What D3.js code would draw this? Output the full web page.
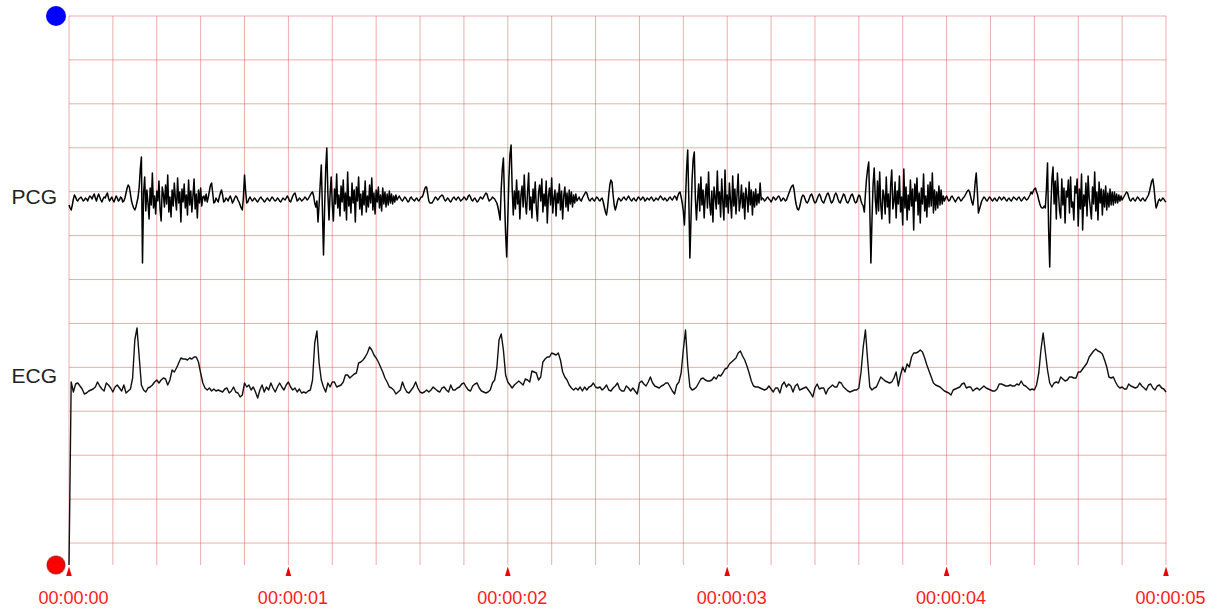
<!DOCTYPE html>
<html>
<head>
<meta charset="utf-8">
<script src="https://cdn.jsdelivr.net/npm/d3@7"></script>
<style>
  html, body { margin: 0; padding: 0; background: #fff; }
  svg { display: block; }
</style>
</head>
<body>
<svg id="chart" width="1213" height="609"></svg>
<script>
// Time axis: one tick per second, labelled hh:mm:ss
const timeTicks = [0, 1, 2, 3, 4, 5];
const timeLabels = ["00:00:00", "00:00:01", "00:00:02", "00:00:03", "00:00:04", "00:00:05"];
const channelNames = ["PCG", "ECG"];

// Sampling rates (samples per second)
const pcgRate = 200;
const ecgRate = 100;

// Phonocardiogram, signed amplitude counts around the channel baseline
const pcgSamples = [
  -6,-9,-11,-6,0,4,2,-1,-2,0,
  1,2,0,-2,-1,1,0,-2,1,3,
  2,0,3,5,1,-2,2,5,2,-1,
  -3,0,2,1,4,6,1,-2,0,2,
  -1,-3,0,3,1,-2,-1,2,1,-3,
  -2,1,6,11,14,12,5,-2,-6,-9,
  -11,-8,-3,2,12,30,42,-64,6,22,
  -12,9,-4,-20,11,-6,26,-9,3,-15,
  8,-2,18,-10,-22,12,5,-8,14,-5,
  24,-13,2,-18,9,-7,16,0,-11,21,
  -4,7,-23,10,-3,15,-9,4,-16,19,
  -6,8,-13,3,20,-10,5,-19,9,-4,
  11,-7,2,3,-2,5,-3,2,8,14,
  16,6,-4,-3,1,-1,-3,2,6,9,
  4,-3,-2,1,0,-2,1,3,0,-4,
  -2,1,3,2,-1,-3,-6,-9,-11,2,
  24,8,-4,-3,0,2,0,-2,-1,1,
  0,-2,-3,-1,1,2,0,-1,-3,-2,
  0,1,-1,-2,0,2,1,-1,-2,-1,
  1,0,-2,-3,-1,1,0,-1,1,3,
  1,-2,-3,0,3,5,6,2,-2,-1,
  1,0,-2,-1,0,2,1,-1,0,2,
  4,6,7,3,-4,-8,-2,-23,-5,15,
  34,-10,-56,-10,30,51,5,-21,5,22,
  -5,-22,10,-5,25,-9,4,-17,13,-3,
  19,-12,6,-21,27,-7,2,-14,16,-4,
  9,-23,12,-2,22,-10,5,-16,8,-6,
  18,-13,3,-8,14,-4,21,-11,6,-15,
  9,-3,12,-9,4,-12,11,-5,7,-8,
  5,-6,8,-4,5,-5,3,-3,4,-1,
  1,3,1,-1,-2,0,2,1,-1,-3,
  -2,1,2,0,-1,-2,0,1,-1,-2,
  0,2,2,5,9,12,12,5,-2,-4,
  -4,-4,-2,0,2,1,-1,0,2,3,
  4,3,0,-2,-1,1,0,-2,-3,-1,
  1,2,0,-1,1,2,0,-2,-1,0,
  2,1,-1,0,3,4,2,-1,-2,0,
  1,-1,-3,-2,0,2,1,0,2,4,
  6,5,1,-2,-1,0,2,1,0,-2,
  -4,-8,-14,-21,10,30,41,0,-35,-58,
  -20,20,45,54,10,-16,8,-10,19,-5,
  8,-20,4,13,-8,24,-3,-15,7,26,
  -11,2,-19,10,-4,17,-9,-22,6,14,
  -2,20,-13,5,-7,18,-24,3,11,-6,
  21,-14,1,9,-17,6,-4,15,-11,8,
  -20,3,12,-8,6,-12,9,-5,7,-8,
  4,-4,5,-2,0,2,-1,-2,1,3,
  5,7,6,2,-1,-2,0,1,-1,-2,
  0,2,1,-1,-2,0,1,-3,-8,-13,
  -16,-8,4,14,19,17,4,-6,-11,-7,
  -2,1,0,-2,-1,1,2,0,-1,1,
  3,1,-1,-2,0,1,-1,-2,0,2,
  1,-1,0,2,1,-2,-1,1,0,-1,
  1,2,0,-2,-1,1,0,-1,1,3,
  2,0,-1,1,0,-2,-1,1,2,0,
  -1,1,3,2,-1,3,6,7,2,-4,
  -12,-26,0,30,49,0,-59,-20,20,40,
  47,0,-21,0,15,-12,22,-6,9,-19,
  3,15,-9,27,-4,-16,8,-23,12,2,
  -10,28,-5,7,-18,20,-3,-21,29,-8,
  4,-14,16,-2,-19,23,-7,10,-15,5,
  25,-12,-3,14,-9,6,-20,11,2,-13,
  17,-6,9,-16,7,-8,10,-6,5,-4,
  16,-1,1,0,-2,-1,1,2,0,-1,
  -3,-1,2,1,-1,0,2,3,1,-2,
  -1,1,0,-2,-1,2,5,8,11,13,
  14,9,0,-6,-10,-11,-8,-3,2,4,
  3,0,-3,-4,-2,1,4,5,2,-2,
  -4,-3,0,3,5,3,-1,-3,-4,-1,
  2,5,6,3,-1,-4,-3,0,4,6,
  4,0,-3,-4,-1,2,5,4,0,-3,
  -4,-2,1,4,5,2,-2,-4,-3,1,
  4,3,-2,-5,-7,-13,5,20,30,37,
  -10,-64,-20,15,31,0,-15,18,-12,27,
  -6,-20,9,3,-15,22,-8,5,-24,14,
  29,-10,-3,17,-19,8,-5,23,-13,2,
  -26,30,-9,12,-21,4,-11,19,-7,10,
  -31,15,-2,21,-16,6,-24,11,-5,25,
  -12,3,-18,14,-8,17,-7,26,-14,9,
  -11,7,-9,13,-6,9,-5,3,-2,1,
  3,0,-2,-1,2,3,1,-1,-3,-1,
  1,2,0,-2,-1,1,2,4,6,8,
  9,7,2,-3,-6,2,16,26,8,-14,
  -10,-6,-2,0,2,1,-1,-2,0,2,
  1,-1,-2,0,1,-1,-2,0,2,1,
  -1,0,2,1,-1,-2,0,1,-1,-2,
  0,2,1,0,-1,1,2,0,-2,-1,
  1,2,0,-1,0,2,4,7,5,8,
  10,11,7,4,-1,-5,-8,-9,-9,-7,
  -9,10,36,-30,-68,-10,20,32,-5,18,
  -20,26,5,-12,-19,20,-6,11,-24,8,
  2,19,-14,22,-8,-3,-21,13,6,20,
  -27,10,-10,25,-31,4,-7,16,-17,23,
  1,-9,-20,12,-5,27,-12,7,-21,17,
  -4,10,-16,9,-8,13,-11,6,-8,10,
  -6,7,-6,7,-4,5,-4,4,-2,3,
  -1,1,3,5,7,6,2,-1,-2,0,
  1,-1,-2,0,2,1,-1,-2,0,1,
  -1,-2,0,2,4,8,13,18,20,12,
  0,-9,-6,-2,0,-2,-1,1,0,-2,
  -3
];

// Electrocardiogram, raw counts above the channel zero marker
const ecgSamples = [
  0,183,173,181,182,179,176,171,172,174,
  175,176,178,183,179,176,174,182,180,177,
  173,178,180,177,174,180,172,174,176,187,
  225,237,208,180,175,173,177,178,180,183,
  185,182,185,187,186,180,185,195,193,197,
  202,207,206,206,205,207,206,208,208,203,
  192,182,177,175,177,174,176,174,175,174,
  173,176,177,172,174,178,173,172,168,170,
  182,178,180,175,178,173,167,175,180,173,
  178,175,182,177,173,178,182,178,175,180,
  183,178,175,177,173,176,172,173,172,174,
  175,185,222,234,202,185,178,173,182,178,
  183,183,178,179,180,183,190,190,187,189,
  191,192,202,203,205,208,212,218,215,210,
  207,203,198,193,187,183,178,177,175,171,
  173,175,183,177,173,172,175,178,183,177,
  173,172,173,175,173,175,178,176,174,173,
  177,178,175,173,180,175,175,177,178,181,
  182,178,175,174,179,181,182,177,174,173,
  172,173,175,182,185,197,225,231,215,190,
  183,180,177,180,182,184,182,180,186,185,
  183,194,193,192,185,188,203,206,208,208,
  212,211,210,212,205,193,188,185,180,177,
  175,177,175,178,174,178,175,178,179,182,
  178,177,178,175,177,180,175,174,177,179,
  182,176,174,174,179,177,174,177,174,171,
  182,184,181,179,183,188,182,179,178,177,
  179,180,182,182,178,174,171,180,183,192,
  215,235,200,178,175,176,178,182,186,187,
  185,184,184,185,188,186,190,189,192,196,
  197,201,203,205,207,212,214,209,205,199,
  192,184,179,178,178,177,176,175,176,179,
  176,173,177,177,172,180,183,178,181,179,
  173,179,181,175,176,177,178,175,172,168,
  177,181,176,177,177,171,176,178,180,178,
  178,183,182,178,176,174,173,174,175,175,
  177,193,218,235,205,178,175,177,178,183,
  188,186,184,183,182,183,187,193,179,190,
  198,193,201,198,208,212,212,213,215,213,
  207,200,194,188,182,180,179,178,176,174,
  173,172,170,175,176,177,178,181,182,177,
  178,178,174,176,177,175,177,179,177,176,
  175,174,174,176,181,181,180,179,179,180,
  179,179,181,180,184,180,179,177,175,176,
  175,180,192,215,232,213,195,182,178,182,
  183,182,188,186,184,185,188,188,187,187,
  193,193,196,199,202,208,211,214,216,214,
  213,211,205,198,188,187,188,183,179,177,
  178,176,176,181,179,178,177,178,182,179,
  177,175,180,181,177,175,179,180,177,176,
  173
];

const svg = d3.select("#chart");
const font = "'Liberation Sans', Arial, Helvetica, sans-serif";

// Scales
const x = d3.scaleLinear().domain([0, 5]).range([69, 1166]);
const boxY = d3.scaleLinear().domain([0, 12.5]).range([565, 16]);   // grid boxes
const ecgY = d3.scaleLinear().domain([0, 549]).range([565, 16]);
const pcgY = d3.scaleLinear().domain([-100, 100]).range([299, 99]);

const gridColor = "rgba(215, 70, 70, 0.45)";

// Grid: vertical lines every 0.2 s, horizontal lines every box
const grid = svg.append("g").attr("class", "grid");
grid.selectAll("line.v")
  .data(d3.range(0, 26).map(k => k * 0.2))
  .join("line")
  .attr("class", "v")
  .attr("x1", d => x(d)).attr("x2", d => x(d))
  .attr("y1", boxY(12.5)).attr("y2", boxY(0))
  .attr("stroke", gridColor).attr("stroke-width", 1);
grid.selectAll("line.h")
  .data(d3.range(0, 13).map(k => k + 0.5))
  .join("line")
  .attr("class", "h")
  .attr("x1", x(0)).attr("x2", x(5))
  .attr("y1", d => boxY(d)).attr("y2", d => boxY(d))
  .attr("stroke", gridColor).attr("stroke-width", 1);

// Time axis with red labels
const axis = d3.axisBottom(x)
  .tickValues(timeTicks)
  .tickFormat((d, i) => timeLabels[i])
  .tickSize(0)
  .tickPadding(15);
const axisG = svg.append("g")
  .attr("transform", `translate(0, ${boxY(0) + 11})`)
  .call(axis);
axisG.select(".domain").remove();
axisG.selectAll("text")
  .attr("fill", "#ff1a1a")
  .attr("dx", 4)
  .style("font-family", font)
  .style("font-size", "18px");

// Tick markers: small red triangles under each second line
svg.append("g").selectAll("path")
  .data(timeTicks)
  .join("path")
  .attr("d", d => {
    const cx = x(d), top = boxY(0) + 1.5, base = boxY(0) + 11;
    return `M${cx},${top}L${cx - 2.8},${base}L${cx + 2.8},${base}Z`;
  })
  .attr("fill", "#ee0000");

// Traces
const pcgLine = d3.line()
  .x((d, i) => x(i / pcgRate))
  .y(d => pcgY(d));
const ecgLine = d3.line()
  .x((d, i) => x(i / ecgRate))
  .y(d => ecgY(d));

svg.append("path")
  .datum(pcgSamples)
  .attr("d", pcgLine)
  .attr("fill", "none")
  .attr("stroke", "#000")
  .attr("stroke-width", 1.5)
  .attr("stroke-linejoin", "round");

svg.append("path")
  .datum(ecgSamples)
  .attr("d", ecgLine)
  .attr("fill", "none")
  .attr("stroke", "#111")
  .attr("stroke-width", 1.4)
  .attr("stroke-linejoin", "round");

// Channel names
const labelY = [204, 383];
svg.append("g").selectAll("text")
  .data(channelNames)
  .join("text")
  .attr("x", x(0) - 12)
  .attr("y", (d, i) => labelY[i])
  .attr("text-anchor", "end")
  .attr("fill", "#222")
  .style("font-family", font)
  .style("font-size", "21px")
  .text(d => d);

// Channel markers
svg.append("circle")
  .attr("cx", x(0) - 13).attr("cy", boxY(12.5)).attr("r", 10)
  .attr("fill", "#0000ff");
svg.append("circle")
  .attr("cx", x(0) - 13).attr("cy", boxY(0)).attr("r", 9)
  .attr("fill", "#ff0000")
  .attr("stroke", "rgba(150, 0, 0, 0.55)")
  .attr("stroke-width", 1.5);
</script>
</body>
</html>
